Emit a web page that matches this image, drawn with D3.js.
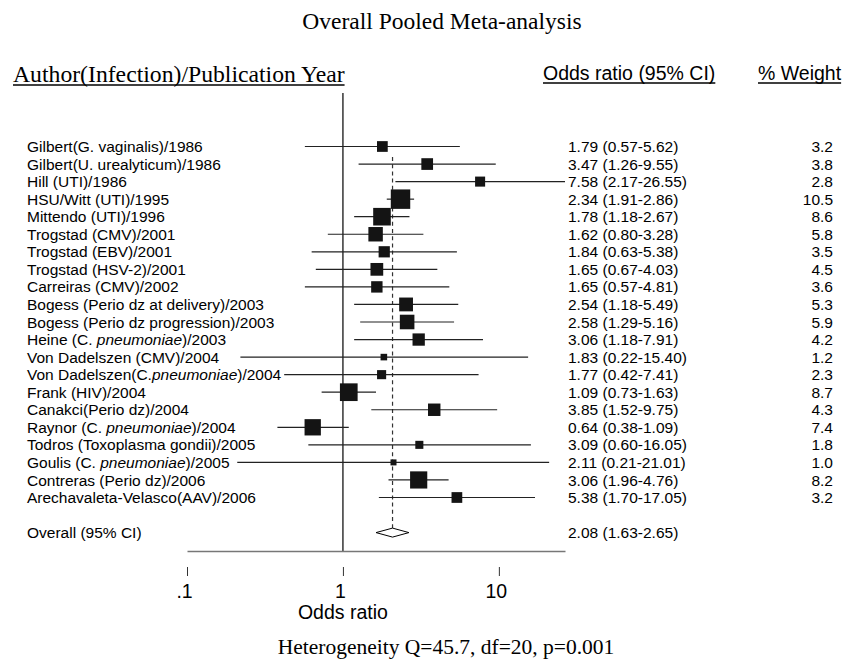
<!DOCTYPE html>
<html>
<head>
<meta charset="utf-8">
<script src="https://cdn.jsdelivr.net/npm/d3@7"></script>
<style>
  body { margin: 0; background: #fff; }
  svg { display: block; }
</style>
</head>
<body>
<svg id="chart"></svg>
<script>
// study labels, italic part marked with *...*
var studies = [
    "Gilbert(G. vaginalis)/1986",
    "Gilbert(U. urealyticum)/1986",
    "Hill (UTI)/1986",
    "HSU/Witt (UTI)/1995",
    "Mittendo (UTI)/1996",
    "Trogstad (CMV)/2001",
    "Trogstad (EBV)/2001",
    "Trogstad (HSV-2)/2001",
    "Carreiras (CMV)/2002",
    "Bogess (Perio dz at delivery)/2003",
    "Bogess (Perio dz progression)/2003",
    "Heine (C. *pneumoniae*)/2003",
    "Von Dadelszen (CMV)/2004",
    "Von Dadelszen(C.*pneumoniae*)/2004",
    "Frank (HIV)/2004",
    "Canakci(Perio dz)/2004",
    "Raynor (C. *pneumoniae*)/2004",
    "Todros (Toxoplasma gondii)/2005",
    "Goulis (C. *pneumoniae*)/2005",
    "Contreras (Perio dz)/2006",
    "Arechavaleta-Velasco(AAV)/2006"
];
var oddsRatio = [1.79, 3.47, 7.58, 2.34, 1.78, 1.62, 1.84, 1.65, 1.65, 2.54, 2.58,
                 3.06, 1.83, 1.77, 1.09, 3.85, 0.64, 3.09, 2.11, 3.06, 5.38];
var lowerCI = [0.57, 1.26, 2.17, 1.91, 1.18, 0.80, 0.63, 0.67, 0.57, 1.18, 1.29,
               1.18, 0.22, 0.42, 0.73, 1.52, 0.38, 0.60, 0.21, 1.96, 1.70];
var upperCI = [5.62, 9.55, 26.55, 2.86, 2.67, 3.28, 5.38, 4.03, 4.81, 5.49, 5.16,
               7.91, 15.40, 7.41, 1.63, 9.75, 1.09, 16.05, 21.01, 4.76, 17.05];
var weights = [3.2, 3.8, 2.8, 10.5, 8.6, 5.8, 3.5, 4.5, 3.6, 5.3, 5.9,
               4.2, 1.2, 2.3, 8.7, 4.3, 7.4, 1.8, 1.0, 8.2, 3.2];
var overall = {label: "Overall (95% CI)", or: 2.08, lo: 1.63, hi: 2.65};
var xTicks = [0.1, 1, 10];
var xTickLabels = [".1", "1", "10"];

var width = 854,
    height = 661;

var svg = d3.select("#chart").attr("width", width).attr("height", height);

var sans = "'Liberation Sans', Arial, Helvetica, sans-serif",
    serif = "'Liberation Serif', 'Times New Roman', Times, serif";

var x = d3.scaleLog().domain([0.1, 26.55]).range([187, 565]);
var y = d3.scaleLinear().domain([0, studies.length - 1]).range([146.5, 497.5]);
var yOverall = y(studies.length + 1);

var rows = studies.map(function (s, i) {
    return {label: s, or: oddsRatio[i], lo: lowerCI[i], hi: upperCI[i], w: weights[i], i: i};
});

// title
svg.append("text")
    .attr("x", 442).attr("y", 29)
    .attr("text-anchor", "middle")
    .style("font-family", serif).style("font-size", "23.5px")
    .text("Overall Pooled Meta-analysis");

// column headers
var headers = [
    {text: "Author(Infection)/Publication Year", x: 13, y: 82, font: serif, size: "23.7px"},
    {text: "Odds ratio (95% CI)", x: 543, y: 80, font: sans, size: "19.5px"},
    {text: "% Weight", x: 758, y: 80, font: sans, size: "19.5px"}
];
headers.forEach(function (h) {
    var t = svg.append("text")
        .attr("x", h.x).attr("y", h.y)
        .style("font-family", h.font).style("font-size", h.size)
        .text(h.text);
    var len = t.node().getComputedTextLength();
    svg.append("line")
        .attr("x1", h.x).attr("x2", h.x + len)
        .attr("y1", h.y + 3).attr("y2", h.y + 3)
        .style("stroke", "#000").style("stroke-width", 1.3);
});

// reference line at 1 and dashed pooled line
svg.append("line")
    .attr("x1", x(1)).attr("x2", x(1))
    .attr("y1", 93).attr("y2", 551)
    .style("stroke", "#000").style("stroke-width", 1.2);

svg.append("line")
    .attr("x1", x(overall.or)).attr("x2", x(overall.or))
    .attr("y1", 157).attr("y2", 537)
    .style("stroke", "#333").style("stroke-width", 1.2)
    .style("stroke-dasharray", "4,3.2");

// study rows
var row = svg.append("g").selectAll("g")
    .data(rows)
    .enter().append("g");

row.append("line")
    .attr("x1", function (d) { return x(d.lo); })
    .attr("x2", function (d) { return x(d.hi); })
    .attr("y1", function (d) { return y(d.i); })
    .attr("y2", function (d) { return y(d.i); })
    .style("stroke", "#222").style("stroke-width", 1.2);

row.append("rect")
    .attr("x", function (d) { return x(d.or) - 3 * Math.sqrt(d.w); })
    .attr("y", function (d) { return y(d.i) - 3 * Math.sqrt(d.w); })
    .attr("width", function (d) { return 6 * Math.sqrt(d.w); })
    .attr("height", function (d) { return 6 * Math.sqrt(d.w); })
    .style("fill", "#141414");

var labels = row.append("text")
    .attr("x", 27)
    .attr("y", function (d) { return y(d.i); })
    .attr("dy", "0.36em")
    .style("font-family", sans).style("font-size", "15.5px");

labels.each(function (d) {
    var t = d3.select(this);
    d.label.split("*").forEach(function (part, k) {
        if (part === "") return;
        t.append("tspan").text(part).style("font-style", k % 2 ? "italic" : "normal");
    });
});

var fmt = d3.format(".2f");
row.append("text")
    .attr("x", 568)
    .attr("y", function (d) { return y(d.i); })
    .attr("dy", "0.36em")
    .style("font-family", sans).style("font-size", "15.5px")
    .text(function (d) { return fmt(d.or) + " (" + fmt(d.lo) + "-" + fmt(d.hi) + ")"; });

row.append("text")
    .attr("x", 833)
    .attr("y", function (d) { return y(d.i); })
    .attr("dy", "0.36em")
    .attr("text-anchor", "end")
    .style("font-family", sans).style("font-size", "15.5px")
    .text(function (d) { return d3.format(".1f")(d.w); });

// overall diamond
svg.append("text")
    .attr("x", 27).attr("y", yOverall).attr("dy", "0.36em")
    .style("font-family", sans).style("font-size", "15.5px")
    .text(overall.label);

svg.append("path")
    .attr("d", "M" + x(overall.lo) + "," + yOverall +
        "L" + x(overall.or) + "," + (yOverall - 4.5) +
        "L" + x(overall.hi) + "," + yOverall +
        "L" + x(overall.or) + "," + (yOverall + 4.5) + "Z")
    .style("fill", "#fff").style("stroke", "#000").style("stroke-width", 1);

svg.append("text")
    .attr("x", 568).attr("y", yOverall).attr("dy", "0.36em")
    .style("font-family", sans).style("font-size", "15.5px")
    .text(fmt(overall.or) + " (" + fmt(overall.lo) + "-" + fmt(overall.hi) + ")");

// x axis
var axis = svg.append("g")
    .attr("transform", "translate(0,551)")
    .call(d3.axisBottom(x).tickValues(xTicks)
        .tickFormat(function (d, i) { return xTickLabels[i]; })
        .tickSizeOuter(0));

axis.select(".domain").style("stroke", "#777").style("stroke-width", 1.6);
axis.selectAll(".tick line")
    .attr("y1", 16).attr("y2", 25)
    .style("stroke", "#333").style("stroke-width", 1);
axis.selectAll(".tick text")
    .attr("y", 47).attr("dy", 0).attr("dx", -3)
    .style("font-family", sans).style("font-size", "19.5px").style("fill", "#000");

svg.append("text")
    .attr("x", x(1)).attr("y", 619)
    .attr("text-anchor", "middle")
    .style("font-family", sans).style("font-size", "19.5px")
    .text("Odds ratio");

svg.append("text")
    .attr("x", 446).attr("y", 654)
    .attr("text-anchor", "middle")
    .style("font-family", serif).style("font-size", "21.5px")
    .text("Heterogeneity Q=45.7, df=20, p=0.001");
</script>
</body>
</html>
